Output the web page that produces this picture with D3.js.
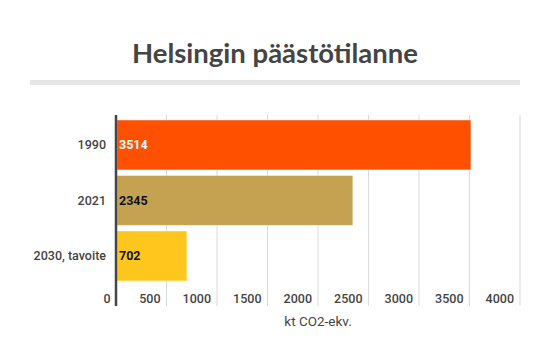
<!DOCTYPE html>
<html><head><meta charset="utf-8">
<script src="https://cdn.jsdelivr.net/npm/d3@7"></script>
<style>html,body{margin:0;padding:0;background:#fff;}svg{display:block;}</style>
</head><body>
<script>
const categories = ["1990", "2021", "2030, tavoite"];
const values = [3514, 2345, 702];
const barColors = ["#ff5000", "#c4a252", "#ffc61e"];
const labelColors = ["#ffffff", "#111111", "#111111"];
const tickValues = [0, 500, 1000, 1500, 2000, 2500, 3000, 3500, 4000];
const titleText = "Helsingin päästötilanne";
const axisTitle = "kt CO2-ekv.";

const W = 550, H = 364;
const svg = d3.select("body").append("svg").attr("width", W).attr("height", H);

svg.append("text").attr("x", 275).attr("y", 63).attr("text-anchor", "middle")
  .attr("font-family", "Lato, 'Open Sans', sans-serif").attr("font-weight", 700)
  .attr("font-size", 27.5).attr("fill", "#444").text(titleText);
svg.append("rect").attr("x", 30).attr("y", 80).attr("width", 490).attr("height", 5).attr("fill", "#e6e6e6");

const x = d3.scaleLinear().domain([0, 4000]).range([116, 520]);
const y = d3.scaleBand().domain(categories).range([117.2, 283.7]).paddingInner(0.1).paddingOuter(0.05);

const gTop = 115, gBot = 306;
// gridlines
svg.append("g").selectAll("line").data(tickValues.filter(d => d > 0)).join("line")
  .attr("x1", d => x(d)).attr("x2", d => x(d)).attr("y1", gTop).attr("y2", gBot)
  .attr("stroke", "#d9d9d9").attr("stroke-width", 1);

// bars
svg.append("g").selectAll("rect").data(values).join("rect")
  .attr("x", x(0) + 1).attr("y", (d, i) => y(categories[i]))
  .attr("width", d => x(d) - x(0) - 1).attr("height", y.bandwidth())
  .attr("fill", (d, i) => barColors[i])
  .attr("stroke", "rgba(255,255,255,0.45)").attr("stroke-width", 1);

// axis line
svg.append("line").attr("x1", x(0)).attr("x2", x(0)).attr("y1", gTop).attr("y2", gBot)
  .attr("stroke", "#444").attr("stroke-width", 2.5);

// value labels
svg.append("g").selectAll("text").data(values).join("text")
  .attr("x", x(0) + 3).attr("y", (d, i) => y(categories[i]) + y.bandwidth() / 2 + 4.5)
  .attr("font-family", "Roboto, sans-serif").attr("font-weight", 700).attr("font-size", 12.5)
  .attr("fill", (d, i) => labelColors[i]).text(d => d);

// category labels
svg.append("g").selectAll("text").data(categories).join("text")
  .attr("x", 106).attr("y", d => y(d) + y.bandwidth() / 2 + 4.5).attr("text-anchor", "end")
  .attr("font-family", "Roboto, sans-serif").attr("font-weight", 500).attr("font-size", 12.5)
  .attr("fill", "#444").text(d => d);

// tick labels
svg.append("g").selectAll("text").data(tickValues).join("text")
  .attr("x", d => x(d) - (d === 0 ? 5.5 : 6)).attr("y", 303).attr("text-anchor", "end")
  .attr("font-family", "Roboto, sans-serif").attr("font-weight", 500).attr("font-size", 12.5)
  .attr("fill", "#444").text(d => d);

svg.append("text").attr("x", (x(0) + x(4000)) / 2).attr("y", 326).attr("text-anchor", "middle")
  .attr("font-family", "Roboto, sans-serif").attr("font-size", 13.5).attr("fill", "#444").text(axisTitle);
</script>
</body></html>
